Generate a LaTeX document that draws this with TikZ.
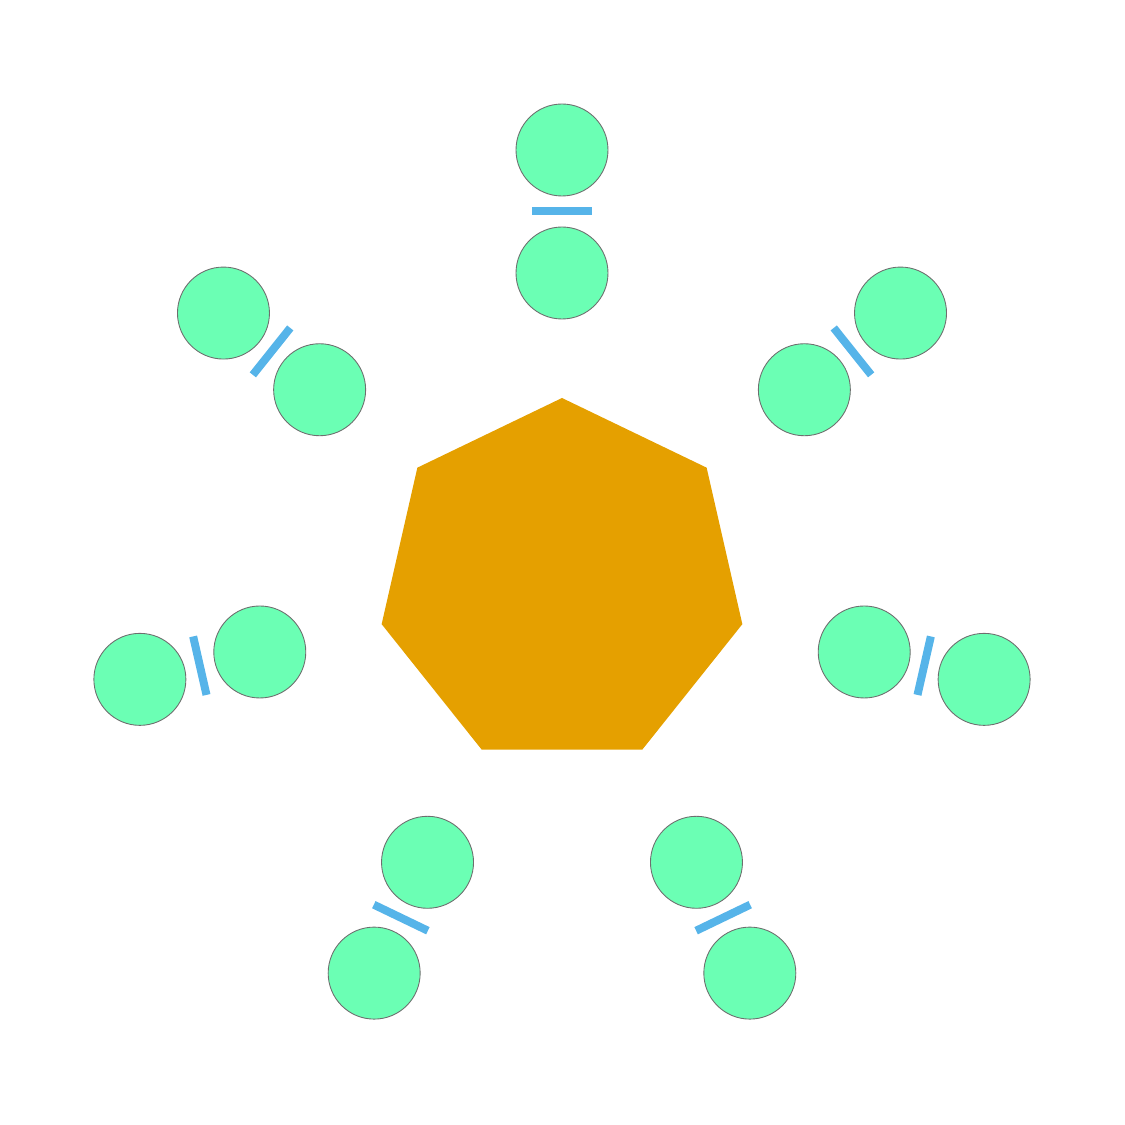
\documentclass[tikz,border=0pt]{standalone}
\usetikzlibrary{calc,shapes.geometric}
\definecolor{hepfill}{RGB}{229,160,0}
\definecolor{ballfill}{RGB}{107,255,180}
\definecolor{barfill}{RGB}{86,180,233}
\definecolor{rimgray}{RGB}{110,110,110}

\begin{document}
\begin{tikzpicture}[x=1cm,y=1cm, line cap=round, line join=round]

\tikzset{
  hep/.style={regular polygon, regular polygon sides=7, fill=hepfill, draw=none, minimum size=3.70cm, inner sep=0pt, outer sep=0pt},
  ball/.style={circle, fill=ballfill, draw=rimgray, line width=0.25pt, minimum size=0.92cm, inner sep=0pt},
  bar/.style={rectangle, fill=barfill, draw=none, minimum width=0.08cm, minimum height=0.60cm, inner sep=0pt},
}

% frame
\useasboundingbox (0,0) rectangle (11.25,11.25);
\coordinate (C) at (5.62,5.42);

% heptagon
\node[hep] (H) at (C) {};

% pair at 90
\node[ball] (in1)  at ($(C)+(90:3.10)$) {};
\node[ball] (out1) at ($(C)+(90:4.33)$) {};
\node[bar, rotate=90] (bar1) at ($(in1)!0.5!(out1)$) {};

% pair at 141.43
\node[ball] (in2)  at ($(C)+(141.43:3.10)$) {};
\node[ball] (out2) at ($(C)+(141.43:4.33)$) {};
\node[bar, rotate=141.43] (bar2) at ($(in2)!0.5!(out2)$) {};

% pair at 192.86
\node[ball] (in3)  at ($(C)+(192.86:3.10)$) {};
\node[ball] (out3) at ($(C)+(192.86:4.33)$) {};
\node[bar, rotate=192.86] (bar3) at ($(in3)!0.5!(out3)$) {};

% pair at 244.29
\node[ball] (in4)  at ($(C)+(244.29:3.10)$) {};
\node[ball] (out4) at ($(C)+(244.29:4.33)$) {};
\node[bar, rotate=244.29] (bar4) at ($(in4)!0.5!(out4)$) {};

% pair at 295.71
\node[ball] (in5)  at ($(C)+(295.71:3.10)$) {};
\node[ball] (out5) at ($(C)+(295.71:4.33)$) {};
\node[bar, rotate=295.71] (bar5) at ($(in5)!0.5!(out5)$) {};

% pair at 347.14
\node[ball] (in6)  at ($(C)+(347.14:3.10)$) {};
\node[ball] (out6) at ($(C)+(347.14:4.33)$) {};
\node[bar, rotate=347.14] (bar6) at ($(in6)!0.5!(out6)$) {};

% pair at 38.57
\node[ball] (in7)  at ($(C)+(38.57:3.10)$) {};
\node[ball] (out7) at ($(C)+(38.57:4.33)$) {};
\node[bar, rotate=38.57] (bar7) at ($(in7)!0.5!(out7)$) {};

\end{tikzpicture}
\end{document}
